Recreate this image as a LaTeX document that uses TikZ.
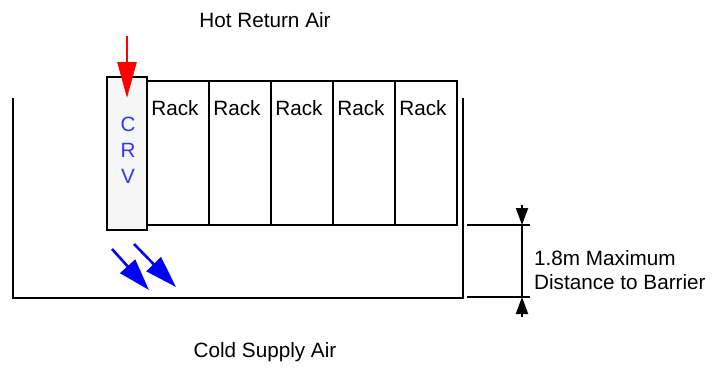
\documentclass[tikz,border=0pt]{standalone}
\usepackage{fontspec}
\setmainfont{Liberation Sans}
\usepackage{xcolor}
\usetikzlibrary{arrows.meta,positioning}
\definecolor{crvblue}{HTML}{3333FF}
\definecolor{crvfill}{HTML}{F6F6F6}
\tikzset{
  txt/.style={font=\fontsize{20.7}{23.5}\selectfont, inner sep=0pt, align=left},
  crvbox/.style={rectangle, draw=black, fill=crvfill, line width=2pt,
    minimum width=40pt, minimum height=153pt, inner sep=0pt, outer sep=0pt},
  rackbox/.style={rectangle, draw=black, line width=2pt,
    minimum width=62pt, minimum height=144pt, inner sep=0pt, outer sep=0pt},
  wall/.style={line width=2.4pt, draw=black},
  ext/.style={line width=2pt, draw=black},
  hot/.style={-{Triangle[length=36pt,width=19pt]}, line width=2.6pt, draw=red, fill=red},
  cold/.style={-{Triangle[length=32pt,width=20pt]}, line width=2.6pt, draw=blue, fill=blue},
  dimtip/.style={-{Triangle[length=17pt,width=12pt]}, line width=2pt},
}

\begin{document}
\begin{tikzpicture}[x=1pt, y=-1pt, node distance=0pt]
    \useasboundingbox (0,0) rectangle (714,370);

    % cooler and racks
    \node[crvbox, anchor=north west] (crv) at (107,77) {};
    \node[txt, text=crvblue, align=center, font=\fontsize{20.7}{26}\selectfont] (crvtxt) at (128,150) {C\\R\\V};
    \node[rackbox, anchor=north west] (rack1) at (147,81) {};
    \foreach \i [remember=\i as \j (initially 1)] in {2,...,5}
      \node[rackbox, right=of rack\j] (rack\i) {};
    \foreach \i in {1,...,5}
      \node[txt, below=19pt of rack\i.north, xshift=-3pt] (racktxt\i) {Rack};

    % barrier
    \draw[wall] (13,98) -- (13,298) -- (463,298) -- (463,98);

    % air flow
    \coordinate (hotstart) at (127,36);
    \draw[hot] (hotstart) -- (crv.north |- 0,98);
    \coordinate (cold1a) at (112,249);
    \coordinate (cold1b) at (149,290);
    \coordinate (cold2a) at (134,244);
    \coordinate (cold2b) at (176,287);
    \draw[cold] (cold1a) -- (cold1b);
    \draw[cold] (cold2a) -- (cold2b);

    % distance to barrier
    \coordinate (exttopL) at (467,225);
    \coordinate (exttopR) at (530,225);
    \coordinate (extbotL) at (467,297);
    \coordinate (extbotR) at (530,297);
    \coordinate (dimtop) at (522,205);
    \coordinate (dimbot) at (522,317);
    \draw[ext] (exttopL) -- (exttopR);
    \draw[ext] (extbotL) -- (extbotR);
    \draw[dimtip] (dimtop) -- (dimtop |- exttopL);
    \draw[dimtip] (dimbot) -- (dimbot |- extbotL);
    \draw[ext] (dimtop |- exttopL) -- (dimbot |- extbotL);

    \node[txt, anchor=west] (dist) at (534,270) {1.8m Maximum\\Distance to Barrier};
    \node[txt] (hotair) at (265,20) {Hot Return Air};
    \node[txt] (coldair) at (265,352) {Cold Supply Air};
  \end{tikzpicture}
\end{document}
